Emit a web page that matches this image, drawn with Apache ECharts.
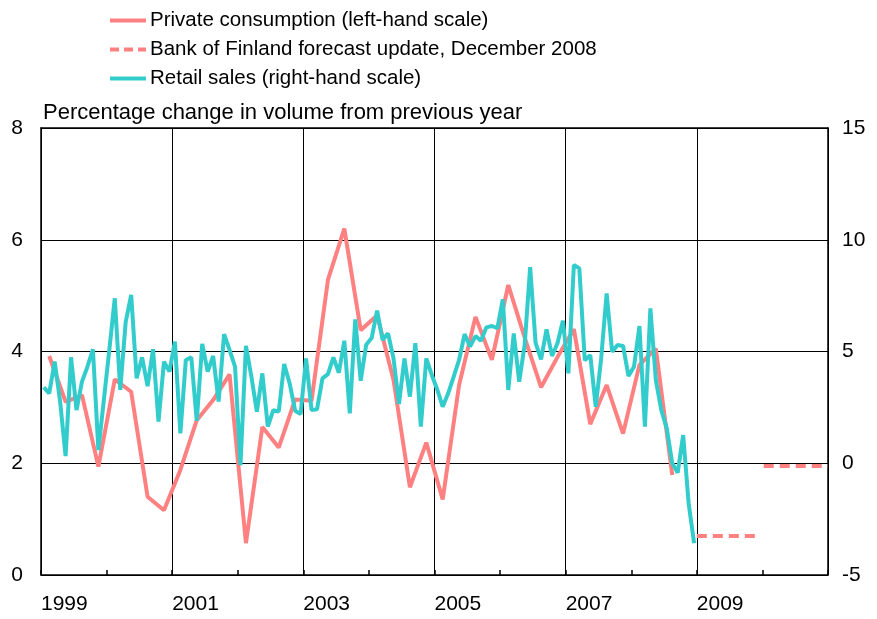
<!DOCTYPE html>
<html>
<head>
<meta charset="utf-8">
<script src="https://cdn.jsdelivr.net/npm/echarts@6/dist/echarts.min.js"></script>
<style>
  html, body { margin: 0; padding: 0; background: #fff; }
  #main { width: 877px; height: 619px; }
</style>
</head>
<body>
<div id="main"></div>
<script>
// private consumption, quarterly from 1999Q1 (left-hand scale)
var consumption = [
  3.92, 3.10, 3.22, 1.94,
  3.50, 3.28, 1.40, 1.16,
  1.88, 2.77, 3.13, 3.59,
  0.57, 2.65, 2.28, 3.14,
  3.12, 5.28, 6.20, 4.38,
  4.65, 3.49, 1.57, 2.37,
  1.35, 3.40, 4.62, 3.85,
  5.19, 4.25, 3.36, 3.90,
  4.40, 2.70, 3.40, 2.53,
  3.76, 4.05, 1.79
];
// retail sales, monthly from 1999 Jan (right-hand scale)
var retail = [
  3.40, 3.13, 4.55, 2.76, 0.32, 4.74, 2.38, 3.65, 4.32, 5.10, 0.59, 2.83,
  5.07, 7.38, 3.28, 6.33, 7.53, 3.80, 4.74, 3.45, 5.10, 1.86, 4.54, 4.10,
  5.44, 1.34, 4.62, 4.74, 1.90, 5.34, 4.10, 4.80, 2.76, 5.78, 5.07, 4.32,
  -0.08, 5.25, 3.87, 2.31, 4.02, 1.64, 2.38, 2.31, 4.44, 3.57, 2.35, 2.20,
  4.69, 2.38, 2.41, 3.80, 3.99, 4.74, 4.05, 5.48, 2.23, 6.44, 3.69, 5.30,
  5.60, 6.83, 5.52, 5.81, 4.69, 2.65, 4.69, 2.98, 5.37, 1.64, 4.69, 3.95,
  3.30, 2.53, 3.13, 3.87, 4.62, 5.78, 5.22, 5.69, 5.48, 6.08, 6.14, 6.04,
  7.33, 3.28, 5.81, 3.65, 5.30, 8.77, 5.39, 4.65, 5.99, 4.80, 5.37, 6.38,
  4.02, 8.87, 8.72, 4.60, 4.84, 2.53, 4.70, 7.60, 4.99, 5.29, 5.25, 3.90,
  4.32, 6.14, 1.64, 6.93, 3.72, 2.38, 1.56, 0.00, -0.42, 1.26, -1.79, -3.58
];
// Bank of Finland forecast, December 2008 (annual, left-hand scale)
var forecastYears = [2009, 2010];
var forecastValues = [0.70, 1.95];
var yearLabels = [1999, 2001, 2003, 2005, 2007, 2009];

var startYear = 1999;
var consData = consumption.map(function (v, i) { return [startYear + (i + 0.5) / 4, v]; });
var retailData = retail.map(function (v, i) { return [startYear + (i + 0.5) / 12, v]; });
var fcData = [];
forecastYears.forEach(function (y, i) {
  if (i > 0) fcData.push('-');
  fcData.push([y + (i > 0 ? 0.02 : 0), forecastValues[i]]);
  fcData.push([y + (i < forecastYears.length - 1 ? 0.97 : 1), forecastValues[i]]);
});

var red = '#ff8080', cyan = '#33cccc';
var font = 'Liberation Sans, Arial, sans-serif';
// legend icons: plain stroke and dashed stroke
var solidIcon = 'path://M0,0H36V4H0Z';
var dashIcon = 'path://M0,0H9V4H0Z M14,0H23V4H14Z M28,0H36V4H28Z';

var myChart = echarts.init(document.getElementById('main'));
var option = {
  animation: false,
  textStyle: { fontFamily: font, color: '#000' },
  title: {
    text: 'Percentage change in volume from previous year',
    left: 38, top: 97,
    textStyle: { fontSize: 22, fontWeight: 'normal', color: '#000', fontFamily: font }
  },
  legend: {
    orient: 'vertical',
    left: 110, top: 10, padding: 0,
    itemWidth: 36, itemHeight: 19, itemGap: 8,
    textStyle: { fontSize: 20.5, color: '#000', fontFamily: font, padding: [0, 0, 0, -1] },
    data: [
      { name: 'Private consumption (left-hand scale)', icon: solidIcon },
      { name: 'Bank of Finland forecast update, December 2008', icon: dashIcon },
      { name: 'Retail sales (right-hand scale)', icon: solidIcon }
    ]
  },
  grid: { left: 41, right: 49, top: 128, bottom: 44 },
  xAxis: [
    {
      type: 'value', min: 1999, max: 2011, interval: 2,
      axisLine: { show: true, onZero: false, lineStyle: { color: '#000', width: 1.5 } },
      axisTick: { show: false },
      splitLine: { show: true, lineStyle: { color: '#000', width: 1 } },
      axisLabel: {
        fontSize: 21, color: '#000', margin: 19, align: 'left',
        formatter: function (v) { return yearLabels.indexOf(v) >= 0 ? String(v) : ''; }
      }
    },
    {
      type: 'value', min: 1999, max: 2011, interval: 1, position: 'bottom',
      axisLine: { show: false, onZero: false },
      axisTick: { show: true, inside: true, length: 5, lineStyle: { color: '#000', width: 1.5 } },
      splitLine: { show: false },
      axisLabel: { show: false }
    },
    {
      type: 'value', min: 1999, max: 2011, position: 'top',
      axisLine: { show: true, onZero: false, lineStyle: { color: '#000', width: 1.5 } },
      axisTick: { show: false }, splitLine: { show: false }, axisLabel: { show: false }
    }
  ],
  yAxis: [
    {
      type: 'value', min: 0, max: 8, interval: 2,
      axisLine: { show: true, onZero: false, lineStyle: { color: '#000', width: 1.5 } },
      axisTick: { show: false },
      splitLine: { show: true, lineStyle: { color: '#000', width: 1 } },
      axisLabel: { fontSize: 21, color: '#000', margin: 18 }
    },
    {
      type: 'value', min: -5, max: 15, interval: 5,
      axisLine: { show: true, onZero: false, lineStyle: { color: '#000', width: 1.5 } },
      axisTick: { show: false },
      splitLine: { show: false },
      axisLabel: { fontSize: 21, color: '#000', margin: 14 }
    }
  ],
  series: [
    {
      name: 'Private consumption (left-hand scale)',
      type: 'line', xAxisIndex: 0, yAxisIndex: 0,
      symbol: 'none', data: consData,
      lineStyle: { color: red, width: 4 }, itemStyle: { color: red }
    },
    {
      name: 'Bank of Finland forecast update, December 2008',
      type: 'line', xAxisIndex: 0, yAxisIndex: 0,
      symbol: 'none', data: fcData, connectNulls: false,
      lineStyle: { color: red, width: 4, type: [10, 6] }, itemStyle: { color: red }
    },
    {
      name: 'Retail sales (right-hand scale)',
      type: 'line', xAxisIndex: 0, yAxisIndex: 1,
      symbol: 'none', data: retailData,
      lineStyle: { color: cyan, width: 4 }, itemStyle: { color: cyan }
    }
  ]
};
myChart.setOption(option);
</script>
</body>
</html>
